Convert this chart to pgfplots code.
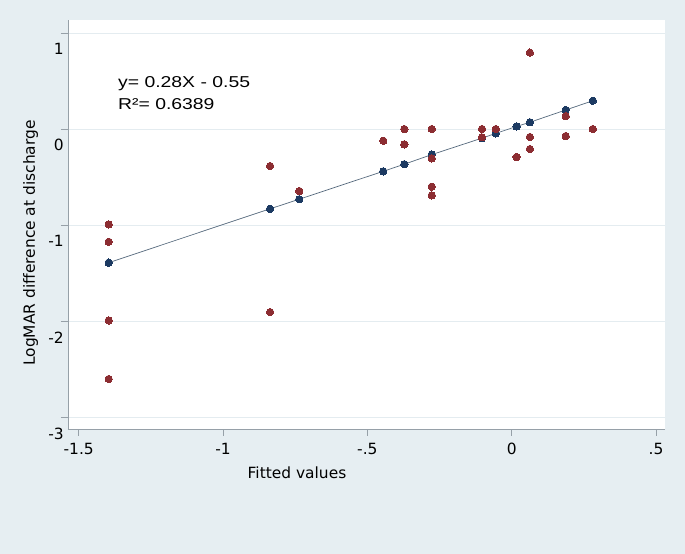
\documentclass[border=0pt]{standalone}
\usepackage{pgfplots}
\pgfplotsset{compat=1.18}
\usepackage{graphicx}
\usepackage{fontspec}
\setmainfont{DejaVu Sans}
\newfontfamily\arialfont{Liberation Sans}
\definecolor{bgc}{RGB}{230,238,242}
\definecolor{navyc}{RGB}{28,58,98}
\definecolor{maroonc}{RGB}{140,45,50}
\definecolor{axc}{RGB}{150,160,168}
\definecolor{gridc}{RGB}{228,236,240}
\definecolor{fitc}{RGB}{85,105,125}
\begin{document}
\begin{tikzpicture}[x=1bp,y=1bp]
\fill[bgc] (-68,-125) rectangle (617,429);
\begin{axis}[
  at={(0,0)}, anchor=south west,
  scale only axis, width=597bp, height=409bp,
  xmin=-1.537, xmax=0.531, ymin=-3.12, ymax=1.134,
  axis background/.style={fill=white},
  axis x line*=bottom, axis y line*=left,
  axis line style={axc, line width=0.6bp, -},
  tick style={axc, line width=0.6bp},
  tick align=outside, major tick length=7bp,
  xtick={-1.5,-1,-0.5,0,0.5},
  xticklabels={-1.5,-1,-.5,0,.5},
  ytick={-3,-2,-1,0,1},
  yticklabels={-3,-2,-1,0,1},
  ymajorgrids, major grid style={gridc, line width=0.6bp},
  every tick label/.append style={font=\fontsize{15.5}{18}\selectfont},
  xticklabel style={yshift=-4bp},
  yticklabel style={anchor=east, inner sep=0pt, xshift=3bp, yshift=-16bp},
  clip=false,
]
\addplot[fitc, line width=0.7bp, mark=none] coordinates {
(-1.396,-1.390) (-0.837,-0.830) (-0.736,-0.730) (-0.445,-0.440) (-0.372,-0.366) (-0.277,-0.266) (-0.103,-0.095) (-0.055,-0.045) (0.017,0.027) (0.063,0.070) (0.187,0.198) (0.281,0.294)
};
\addplot[only marks, mark=*, mark size=3.7bp, draw=none, mark options={fill=navyc, draw=navyc, line width=0pt}] coordinates {
(-1.396,-1.390) (-0.837,-0.830) (-0.736,-0.730) (-0.445,-0.440) (-0.372,-0.366) (-0.277,-0.266) (-0.103,-0.095) (-0.055,-0.045) (0.017,0.027) (0.063,0.070) (0.187,0.198) (0.281,0.294)
};
\addplot[only marks, mark=*, mark size=3.7bp, draw=none, mark options={fill=maroonc, draw=maroonc, line width=0pt}] coordinates {
(-1.396,-0.992) (-1.396,-1.173) (-1.396,-1.991) (-1.396,-2.600)
(-0.837,-0.385) (-0.837,-1.904)
(-0.736,-0.645)
(-0.445,-0.122)
(-0.372,0.0) (-0.372,-0.159)
(-0.277,0.0) (-0.277,-0.305) (-0.277,-0.600) (-0.277,-0.690)
(-0.103,0.0) (-0.103,-0.086)
(-0.055,0.0)
(0.017,-0.291)
(0.063,0.794) (0.063,-0.083) (0.063,-0.208)
(0.187,0.135) (0.187,-0.073)
(0.281,0.0)
};
\end{axis}
\node[anchor=base west, inner sep=0pt] at (50,341.7) {\arialfont\fontsize{15.8}{18}\selectfont\scalebox{1.23}[1]{y= 0.28X - 0.55}};
\node[anchor=base west, inner sep=0pt] at (50,319.7) {\arialfont\fontsize{15.8}{18}\selectfont\scalebox{1.23}[1]{R²= 0.6389}};
\node[rotate=90, anchor=base, inner sep=0pt] at (-33,186) {\fontsize{15.5}{18}\selectfont LogMAR difference at discharge};
\node[anchor=base, inner sep=0pt] at (229,-50) {\fontsize{15.5}{18}\selectfont Fitted values};
\end{tikzpicture}
\end{document}
